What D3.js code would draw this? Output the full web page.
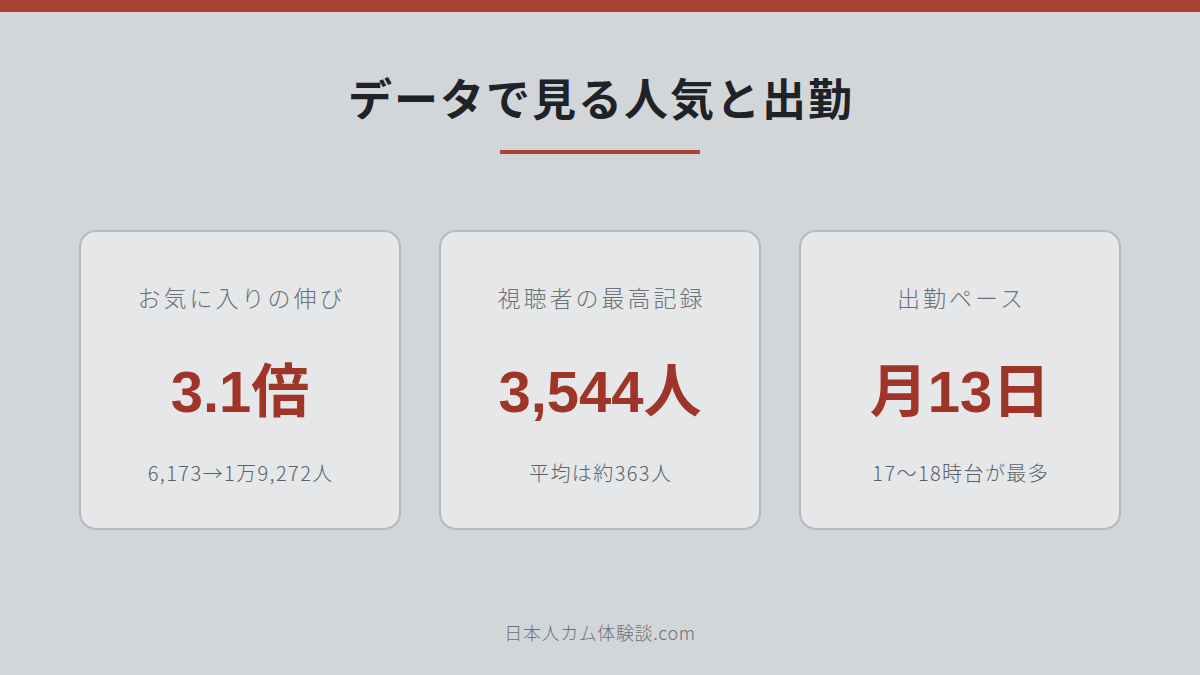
<!DOCTYPE html>
<html>
<head>
<meta charset="utf-8">
<script src="https://cdn.jsdelivr.net/npm/d3@7"></script>
<style>
  body { margin: 0; background: #d3d6d9; }
  svg { display: block; }
</style>
</head>
<body>
<script>
var width = 1200,
    height = 675;

var title = 'データで見る人気と出勤';
var labels = ['お気に入りの伸び', '視聴者の最高記録', '出勤ペース'];
var values = ['3.1倍', '3,544人', '月13日'];
var notes = ['6,173→1万9,272人', '平均は約363人', '17〜18時台が最多'];
var footer = '日本人カム体験談.com';

var jp = '"Noto Sans CJK JP", "Noto Sans", sans-serif';
var big = '"Liberation Sans", Arial, "Noto Sans CJK JP", sans-serif';

var svg = d3.select('body').append('svg')
  .attr('width', width)
  .attr('height', height);

svg.append('rect')
  .attr('width', width)
  .attr('height', height)
  .attr('fill', '#d3d6d9');

svg.append('rect')
  .attr('width', width)
  .attr('height', 12)
  .attr('fill', '#a84234');

svg.append('text')
  .attr('x', width / 2 + 1)
  .attr('y', 116)
  .attr('text-anchor', 'middle')
  .attr('font-family', jp)
  .attr('font-weight', 700)
  .attr('font-size', '44px')
  .attr('letter-spacing', '2px')
  .attr('fill', '#1f2328')
  .text(title);

svg.append('rect')
  .attr('x', 500)
  .attr('y', 150)
  .attr('width', 200)
  .attr('height', 4)
  .attr('fill', '#a84234');

// カードの横位置はバンドスケールで決める
var x = d3.scaleBand()
  .domain(d3.range(labels.length))
  .range([80, 1120])
  .paddingInner(40 / 360);

var card = svg.selectAll('g.card')
  .data(labels)
  .enter()
  .append('g')
  .attr('class', 'card')
  .attr('transform', function(d, i) { return 'translate(' + x(i) + ',231)'; });

card.append('rect')
  .attr('width', x.bandwidth())
  .attr('height', 298)
  .attr('rx', 16)
  .attr('fill', '#e5e7e9')
  .attr('stroke', '#b6b9bd')
  .attr('stroke-width', 2);

card.append('text')
  .attr('x', x.bandwidth() / 2 + 1.5)
  .attr('y', 76)
  .attr('text-anchor', 'middle')
  .attr('font-family', jp)
  .attr('font-weight', 300)
  .attr('font-size', '23px')
  .attr('letter-spacing', '3px')
  .attr('fill', '#6b7079')
  .text(function(d) { return d; });

card.append('text')
  .attr('x', x.bandwidth() / 2)
  .attr('y', 181)
  .attr('text-anchor', 'middle')
  .attr('font-family', big)
  .attr('font-weight', 700)
  .attr('font-size', '58px')
  .attr('fill', '#9f3428')
  .text(function(d, i) { return values[i]; });

card.append('text')
  .attr('x', x.bandwidth() / 2 + 0.7)
  .attr('y', 250)
  .attr('text-anchor', 'middle')
  .attr('font-family', jp)
  .attr('font-weight', 300)
  .attr('font-size', '20px')
  .attr('letter-spacing', '1.4px')
  .attr('fill', '#5a6169')
  .text(function(d, i) { return notes[i]; });

svg.append('text')
  .attr('x', width / 2)
  .attr('y', 640)
  .attr('text-anchor', 'middle')
  .attr('font-family', jp)
  .attr('font-weight', 300)
  .attr('font-size', '18px')
  .attr('letter-spacing', '0.6px')
  .attr('fill', '#6b7079')
  .text(footer);
</script>
</body>
</html>
